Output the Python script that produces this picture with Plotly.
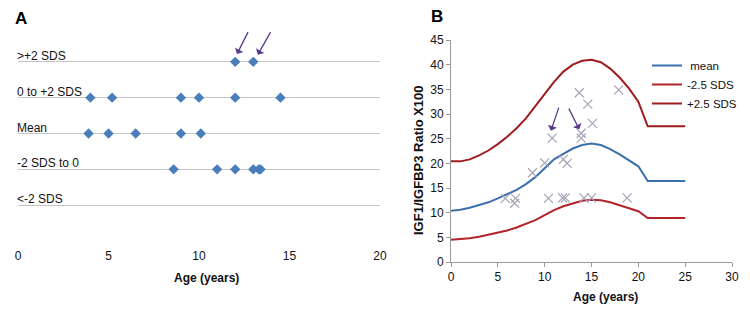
import plotly.graph_objects as go

# ---------------- Panel A data ----------------
row_labels = ["<-2 SDS", "-2 SDS to 0", "Mean", "0 to +2 SDS", ">+2 SDS"]
row_pos = [1, 2, 3, 4, 5]
ages_gt2 = [12.0, 13.0]
ages_0to2 = [4.0, 5.2, 9.0, 10.0, 12.0, 14.5]
ages_mean = [3.9, 5.0, 6.5, 9.0, 10.1]
ages_m2to0 = [8.6, 11.0, 12.0, 13.0, 13.3, 13.4]
ages_lt2 = []

# ---------------- Panel B data ----------------
curve_age = list(range(0, 26))
mean_ratio = [10.4, 10.6, 11.0, 11.5, 12.1, 12.9, 13.7, 14.6, 15.8, 17.2, 19.0, 20.8,
              21.9, 23.0, 23.7, 24.0, 23.7, 22.9, 21.8, 20.6, 19.4, 16.4, 16.4, 16.4, 16.4, 16.4]
minus25 = [4.5, 4.6, 4.8, 5.1, 5.5, 5.9, 6.4, 7.0, 7.7, 8.5, 9.5, 10.5,
           11.3, 11.9, 12.4, 12.6, 12.5, 12.1, 11.5, 10.9, 10.3, 8.9, 8.9, 8.9, 8.9, 8.9]
plus25 = [20.4, 20.4, 20.8, 21.6, 22.6, 23.9, 25.4, 27.1, 29.1, 31.5, 34.0, 36.5,
          38.6, 40.0, 40.8, 41.0, 40.5, 39.2, 37.4, 35.2, 32.5, 27.5, 27.5, 27.5, 27.5, 27.5]
pt_age = [5.8, 6.9, 6.8, 8.7, 10.0, 10.4, 10.8, 12.0, 12.4, 11.9, 12.2, 13.9, 13.9,
          13.7, 14.6, 15.1, 14.2, 15.0, 17.9, 18.8]
pt_ratio = [12.9, 12.9, 11.9, 18.1, 20.1, 12.9, 25.1, 20.8, 20.0, 13.0, 13.0, 25.1, 26.1,
            34.3, 32.0, 28.1, 13.0, 13.0, 34.9, 13.0]

FONT = "Liberation Sans, Arial, Helvetica, sans-serif"
blue_pt = "#4a7ebb"
grid_gray = "#c4c4c4"
purple = "#5a3a8e"

W, H, OFF = 750, 315, 8  # page body margin offsets the figure by ~8px


def fx(px):
    return (px - OFF) / W


def fy(py):
    return 1 - (py - OFF) / H


fig = go.Figure()

for ages, pos in [(ages_lt2, 1), (ages_m2to0, 2), (ages_mean, 3), (ages_0to2, 4), (ages_gt2, 5)]:
    fig.add_trace(go.Scatter(x=ages, y=[pos] * len(ages), mode="markers",
                             marker=dict(symbol="diamond", size=8, color=blue_pt),
                             xaxis="x", yaxis="y", showlegend=False, cliponaxis=False))

fig.add_trace(go.Scatter(x=curve_age, y=mean_ratio, mode="lines", name=" mean",
                         line=dict(color="#3b6fae", width=2), xaxis="x2", yaxis="y2"))
fig.add_trace(go.Scatter(x=curve_age, y=minus25, mode="lines", name="-2.5 SDS",
                         line=dict(color="#b3232a", width=2), xaxis="x2", yaxis="y2"))
fig.add_trace(go.Scatter(x=curve_age, y=plus25, mode="lines", name="+2.5 SDS",
                         line=dict(color="#9e1c1e", width=2), xaxis="x2", yaxis="y2"))
fig.add_trace(go.Scatter(x=pt_age, y=pt_ratio, mode="markers", showlegend=False,
                         marker=dict(symbol="x-thin-open", size=9, color="#a4a4b8",
                                     line=dict(color="#a4a4b8", width=1.2)),
                         xaxis="x2", yaxis="y2"))

annotations = []
for lab, pos in zip(row_labels, row_pos):
    annotations.append(dict(x=fx(15), xref="paper", y=pos, yref="y", text=lab,
                            showarrow=False, xanchor="left", yanchor="middle", yshift=6,
                            font=dict(size=12, color="#111")))
# arrows panel A
for tx, ty, hx, hy in [(12.75, 5.87, 12.1, 5.22), (14.0, 5.87, 13.25, 5.2)]:
    annotations.append(dict(x=hx, y=hy, xref="x", yref="y", ax=tx, ay=ty, axref="x", ayref="y",
                            text="", showarrow=True, arrowhead=1, arrowsize=1.2,
                            arrowwidth=1.3, arrowcolor=purple))
# arrows panel B
for tx, ty, hx, hy in [(11.56, 31.6, 10.67, 26.6), (12.5, 31.4, 13.7, 26.9)]:
    annotations.append(dict(x=hx, y=hy, xref="x2", yref="y2", ax=tx, ay=ty, axref="x2", ayref="y2",
                            text="", showarrow=True, arrowhead=1, arrowsize=1.2,
                            arrowwidth=1.3, arrowcolor=purple))
annotations += [
    dict(x=fx(21), y=fy(18), xref="paper", yref="paper", text="<b>A</b>", showarrow=False,
         xanchor="center", yanchor="middle", font=dict(size=17, color="#000")),
    dict(x=fx(437), y=fy(16), xref="paper", yref="paper", text="<b>B</b>", showarrow=False,
         xanchor="center", yanchor="middle", font=dict(size=17, color="#000")),
    dict(x=fx(207), y=fy(278), xref="paper", yref="paper", text="<b>Age (years)</b>",
         xanchor="center", yanchor="middle",
         showarrow=False, font=dict(size=12, color="#111")),
    dict(x=fx(605), y=fy(297), xref="paper", yref="paper", text="<b>Age (years)</b>",
         xanchor="center", yanchor="middle",
         showarrow=False, font=dict(size=12, color="#111")),
    dict(x=fx(418), y=fy(160), xref="paper", yref="paper",
         text="<b>IGF1/IGFBP3 Ratio X100</b>", textangle=-90,
         xanchor="center", yanchor="middle",
         showarrow=False, font=dict(size=13, color="#111")),
]

fig.update_layout(
    width=W, height=H,
    margin=dict(l=0, r=0, t=0, b=0, autoexpand=False),
    paper_bgcolor="white", plot_bgcolor="white",
    font=dict(family=FONT, size=12, color="#111"),
    xaxis=dict(domain=[fx(18), fx(380)], range=[0, 20], tickvals=[0, 5, 10, 15, 20],
               showgrid=False, zeroline=False, showline=False, ticks="",
               ticklabelstandoff=6, tickfont=dict(size=12), anchor="y"),
    yaxis=dict(domain=[fy(241), fy(26)], range=[0, 6],
               tickvals=[0, 1, 2, 3, 4, 5], showticklabels=False, showgrid=True,
               gridcolor=grid_gray, gridwidth=1.3, zeroline=False, showline=False,
               anchor="x"),
    xaxis2=dict(domain=[fx(451), fx(732)], range=[0, 30], dtick=5,
                showgrid=False, zeroline=False, showline=True, linecolor="#9a9a9a",
                ticks="outside", ticklen=4, tickcolor="#9a9a9a", tickfont=dict(size=12),
                anchor="y2"),
    yaxis2=dict(domain=[fy(262), fy(40)], range=[0, 45], dtick=5,
                showgrid=False, zeroline=False, showline=True, linecolor="#9a9a9a",
                ticks="outside", ticklen=4, tickcolor="#9a9a9a", tickfont=dict(size=12),
                anchor="x2"),
    legend=dict(x=fx(647), y=fy(51), xanchor="left", yanchor="top",
                font=dict(size=11.5), bgcolor="rgba(0,0,0,0)", tracegroupgap=0,
                itemwidth=30),
    annotations=annotations,
)

fig.write_html("out.html")
